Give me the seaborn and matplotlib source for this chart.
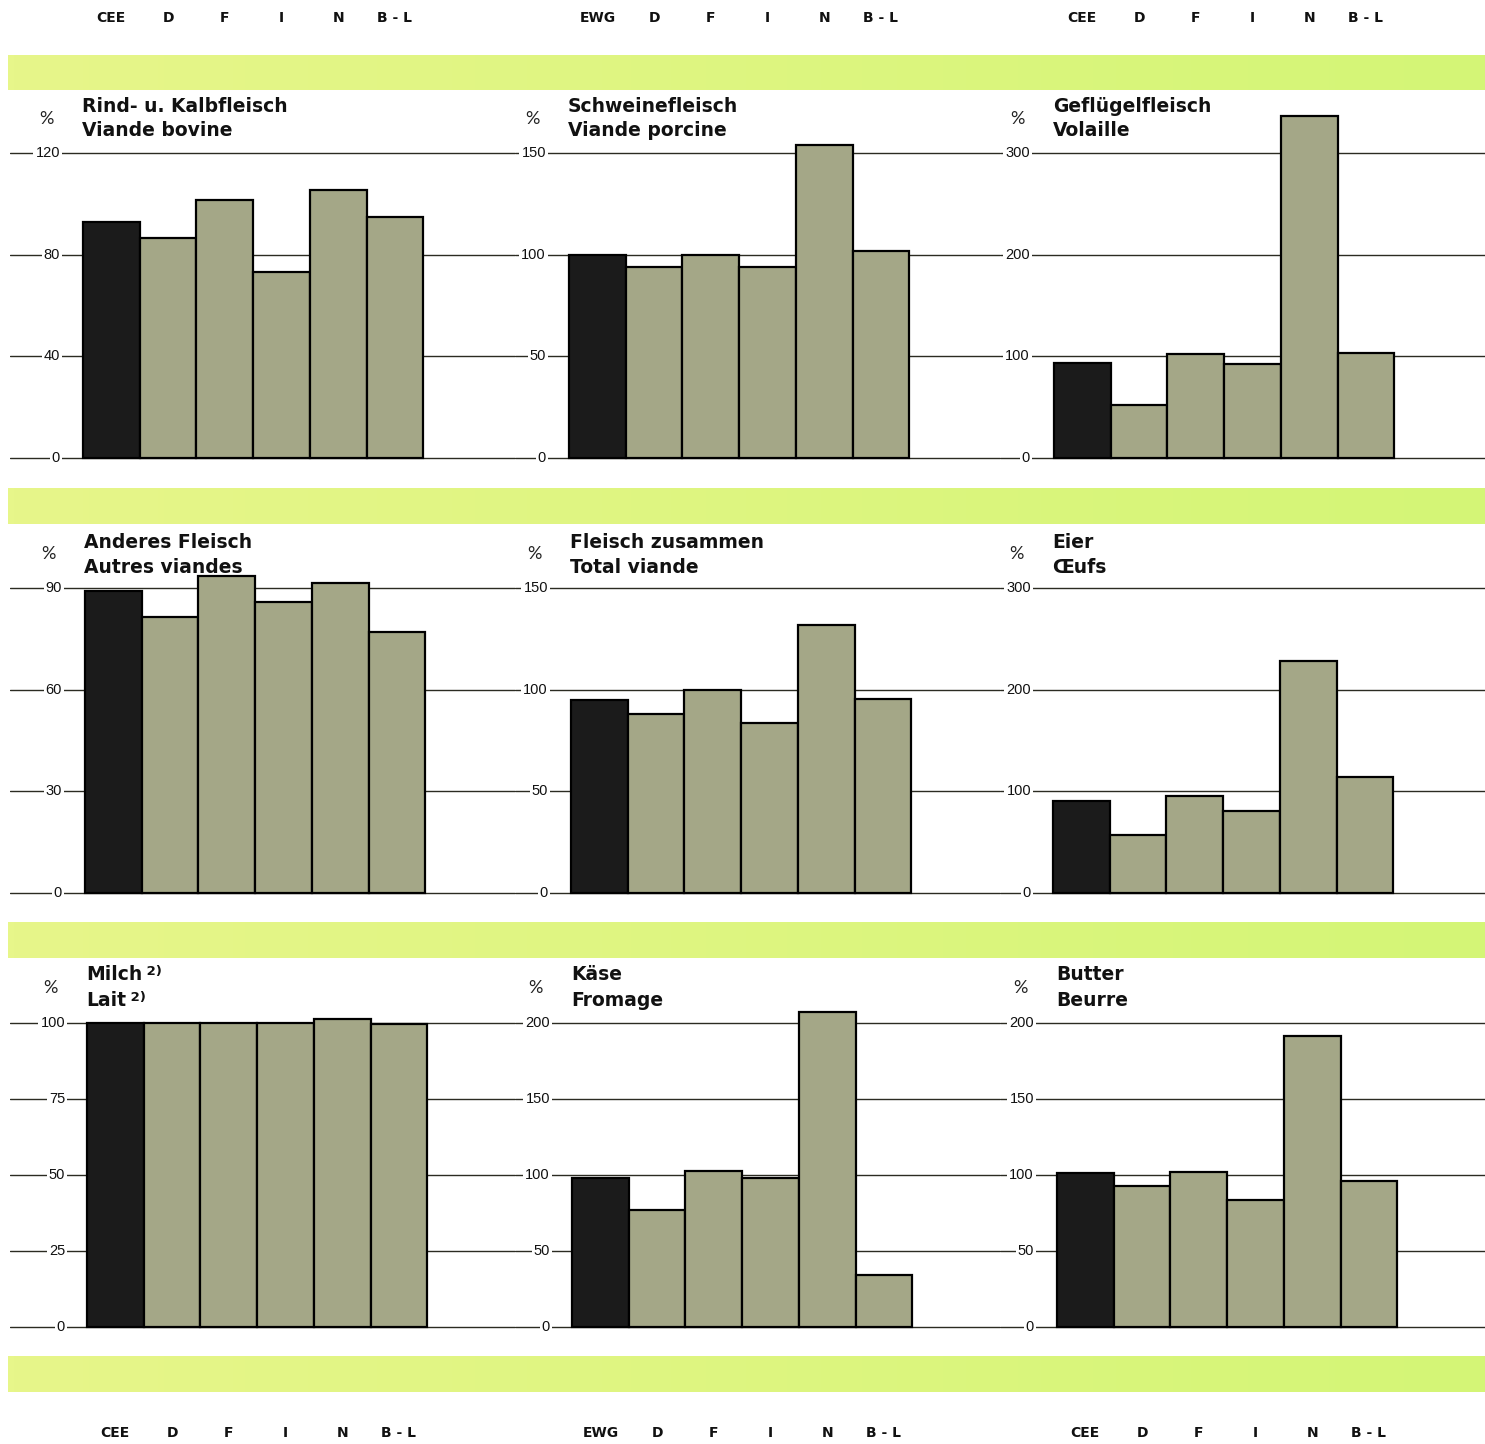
import numpy as np
import pandas as pd
import matplotlib
matplotlib.use("Agg")
import matplotlib.pyplot as plt
import matplotlib.transforms as mtransforms
import seaborn as sns

# ---------------- data ----------------
cats_cee = ["CEE", "D", "F", "I", "N", "B-L"]
cats_ewg = ["EWG", "D", "F", "I", "N", "B-L"]

titles = [
    ("Rind- u. Kalbfleisch", "Viande bovine"),
    ("Schweinefleisch", "Viande porcine"),
    ("Geflügelfleisch", "Volaille"),
    ("Anderes Fleisch", "Autres viandes"),
    ("Fleisch zusammen", "Total viande"),
    ("Eier", "Œufs"),
    ("Milch", "Lait"),
    ("Käse", "Fromage"),
    ("Butter", "Beurre"),
]

rind = [93, 86.5, 101.5, 73, 105.5, 95]
schwein = [100, 94, 100, 94, 154, 102]
gefluegel = [93, 52, 102, 92, 336, 103.5]
anderes = [89, 81.5, 93.5, 86, 91.5, 77]
total = [95, 88, 100, 83.5, 132, 95.5]
eier = [90.5, 57, 95.5, 81, 228, 114]
milch = [100, 100, 100, 100, 101.3, 99.7]
kaese = [98, 77, 102.5, 98, 207, 34]
butter = [101.5, 93, 102, 83.5, 191.5, 96]

ticks_rind = [0, 40, 80, 120]
ticks_schwein = [0, 50, 100, 150]
ticks_gefluegel = [0, 100, 200, 300]
ticks_anderes = [0, 30, 60, 90]
ticks_total = [0, 50, 100, 150]
ticks_eier = [0, 100, 200, 300]
ticks_milch = [0, 25, 50, 75, 100]
ticks_kaese = [0, 50, 100, 150, 200]
ticks_butter = [0, 50, 100, 150, 200]

series = [rind, schwein, gefluegel, anderes, total, eier, milch, kaese, butter]
tick_sets = [ticks_rind, ticks_schwein, ticks_gefluegel, ticks_anderes, ticks_total,
             ticks_eier, ticks_milch, ticks_kaese, ticks_butter]
col_cats = [cats_cee, cats_ewg, cats_cee]

# ---------------- layout (pixels) ----------------
W, H = 1485, 1444
sns.set_theme(style="white")
plt.rcParams["font.family"] = ["DejaVu Sans"]

fig = plt.figure(figsize=(W / 100, H / 100), dpi=100)
fig.patch.set_facecolor("white")

bands = [(55, 90), (488, 524), (922, 958), (1356, 1392)]
rows = [(153, 458), (588, 893), (1023, 1327)]          # top grid px, zero px
ax_left = [10, 515, 1000]
ax_right = [515, 1000, 1485]
bar_left = [[83, 569, 1054], [85, 571, 1053], [87, 572, 1057]]
lab_right = [[60, 546, 1030], [62, 548, 1031], [65, 550, 1034]]
title_y = [(107, 131), (543, 567), (975, 1000)]
pct_y = [119, 554, 988]
unit = 56.7

GREY = "#a4a787"
BLACK = "#1b1b1b"
LINE = "#2b2b22"

def fy(ypx):
    return 1 - ypx / H

# green bands
grad = np.linspace(0, 1, 256)[None, :]
c0 = np.array([231, 246, 138]) / 255
c1 = np.array([212, 245, 118]) / 255
img = (c0[None, None, :] * (1 - grad[..., None]) + c1[None, None, :] * grad[..., None])
for (b0, b1) in bands:
    bax = fig.add_axes([8 / W, fy(b1), (W - 8) / W, (b1 - b0) / H])
    bax.imshow(img, aspect="auto", extent=(0, 1, 0, 1))
    bax.set_axis_off()

axes = []
for r in range(3):
    top_px, zero_px = rows[r]
    ax_top_px = bands[r][1] + 2
    ax_bot_px = zero_px + 12
    for c in range(3):
        i = r * 3 + c
        vals = series[i]
        ticks = tick_sets[i]
        cats = col_cats[c]
        ax = fig.add_axes([ax_left[c] / W, fy(ax_bot_px),
                           (ax_right[c] - ax_left[c]) / W, (ax_bot_px - ax_top_px) / H])
        ax.set_facecolor("none")
        df = pd.DataFrame({"cat": cats, "val": vals})
        pal = {k: (BLACK if j == 0 else GREY) for j, k in enumerate(cats)}
        sns.barplot(data=df, x="cat", y="val", hue="cat", palette=pal, order=cats,
                    width=1.0, saturation=1, edgecolor="black", linewidth=1.6,
                    legend=False, ax=ax, zorder=3)
        # scales
        k = (zero_px - top_px) / ticks[-1]
        ax.set_ylim(-(ax_bot_px - zero_px) / k, ticks[-1] + (top_px - ax_top_px) / k)
        xl = -0.5 - (bar_left[r][c] - ax_left[c]) / unit
        ax.set_xlim(xl, xl + (ax_right[c] - ax_left[c]) / unit)
        ax.set_yticks(ticks)
        ax.grid(axis="y", color=LINE, linewidth=1.0)
        ax.grid(axis="x", visible=False)
        ax.set_axisbelow(True)
        ax.tick_params(left=False, bottom=False, labelleft=False, labelbottom=False)
        for s in ax.spines.values():
            s.set_visible(False)
        ax.set_xlabel("")
        ax.set_ylabel("")
        # tick labels breaking the grid lines
        tr_lab = mtransforms.blended_transform_factory(fig.transFigure, ax.transData)
        for t in ticks:
            ax.text(lab_right[r][c] / W, t, f"{t}", transform=tr_lab, ha="right", va="center",
                    fontsize=10.5, family=["Liberation Sans", "DejaVu Sans"], color="#111111",
                    bbox=dict(facecolor="white", edgecolor="none", pad=1.5), zorder=2)
        # titles
        tr_t = mtransforms.blended_transform_factory(ax.transData, fig.transFigure)
        l1, l2 = titles[i]
        t1 = ax.text(-0.52, fy(title_y[r][0]), l1, transform=tr_t, ha="left", va="center",
                     fontsize=13.5, fontweight="bold", color="#111111")
        t2 = ax.text(-0.52, fy(title_y[r][1]), l2, transform=tr_t, ha="left", va="center",
                     fontsize=13.5, fontweight="bold", color="#111111")
        if i == 6:
            for tt in (t1, t2):
                ax.annotate(" 2)", xy=(1, 1), xycoords=tt, ha="left", va="top",
                            fontsize=9.5, fontweight="bold", color="#111111")
        ax.text(-0.5 - 37 / unit, fy(pct_y[r]), "%", transform=tr_t, ha="center",
                va="center", fontsize=13, family=["Lato", "DejaVu Sans"], color="#222222")
        axes.append(ax)

# country labels above first row and below last row
for c in range(3):
    for (ax, ypx) in ((axes[c], 18), (axes[6 + c], 1433)):
        tr = mtransforms.blended_transform_factory(ax.transData, fig.transFigure)
        for j, name in enumerate(col_cats[c]):
            ax.text(j, fy(ypx), name.replace("-", " - "), transform=tr, ha="center",
                    va="center", fontsize=10, fontweight="bold", color="#111111")

fig.savefig("out.png", dpi=100, facecolor="white")
